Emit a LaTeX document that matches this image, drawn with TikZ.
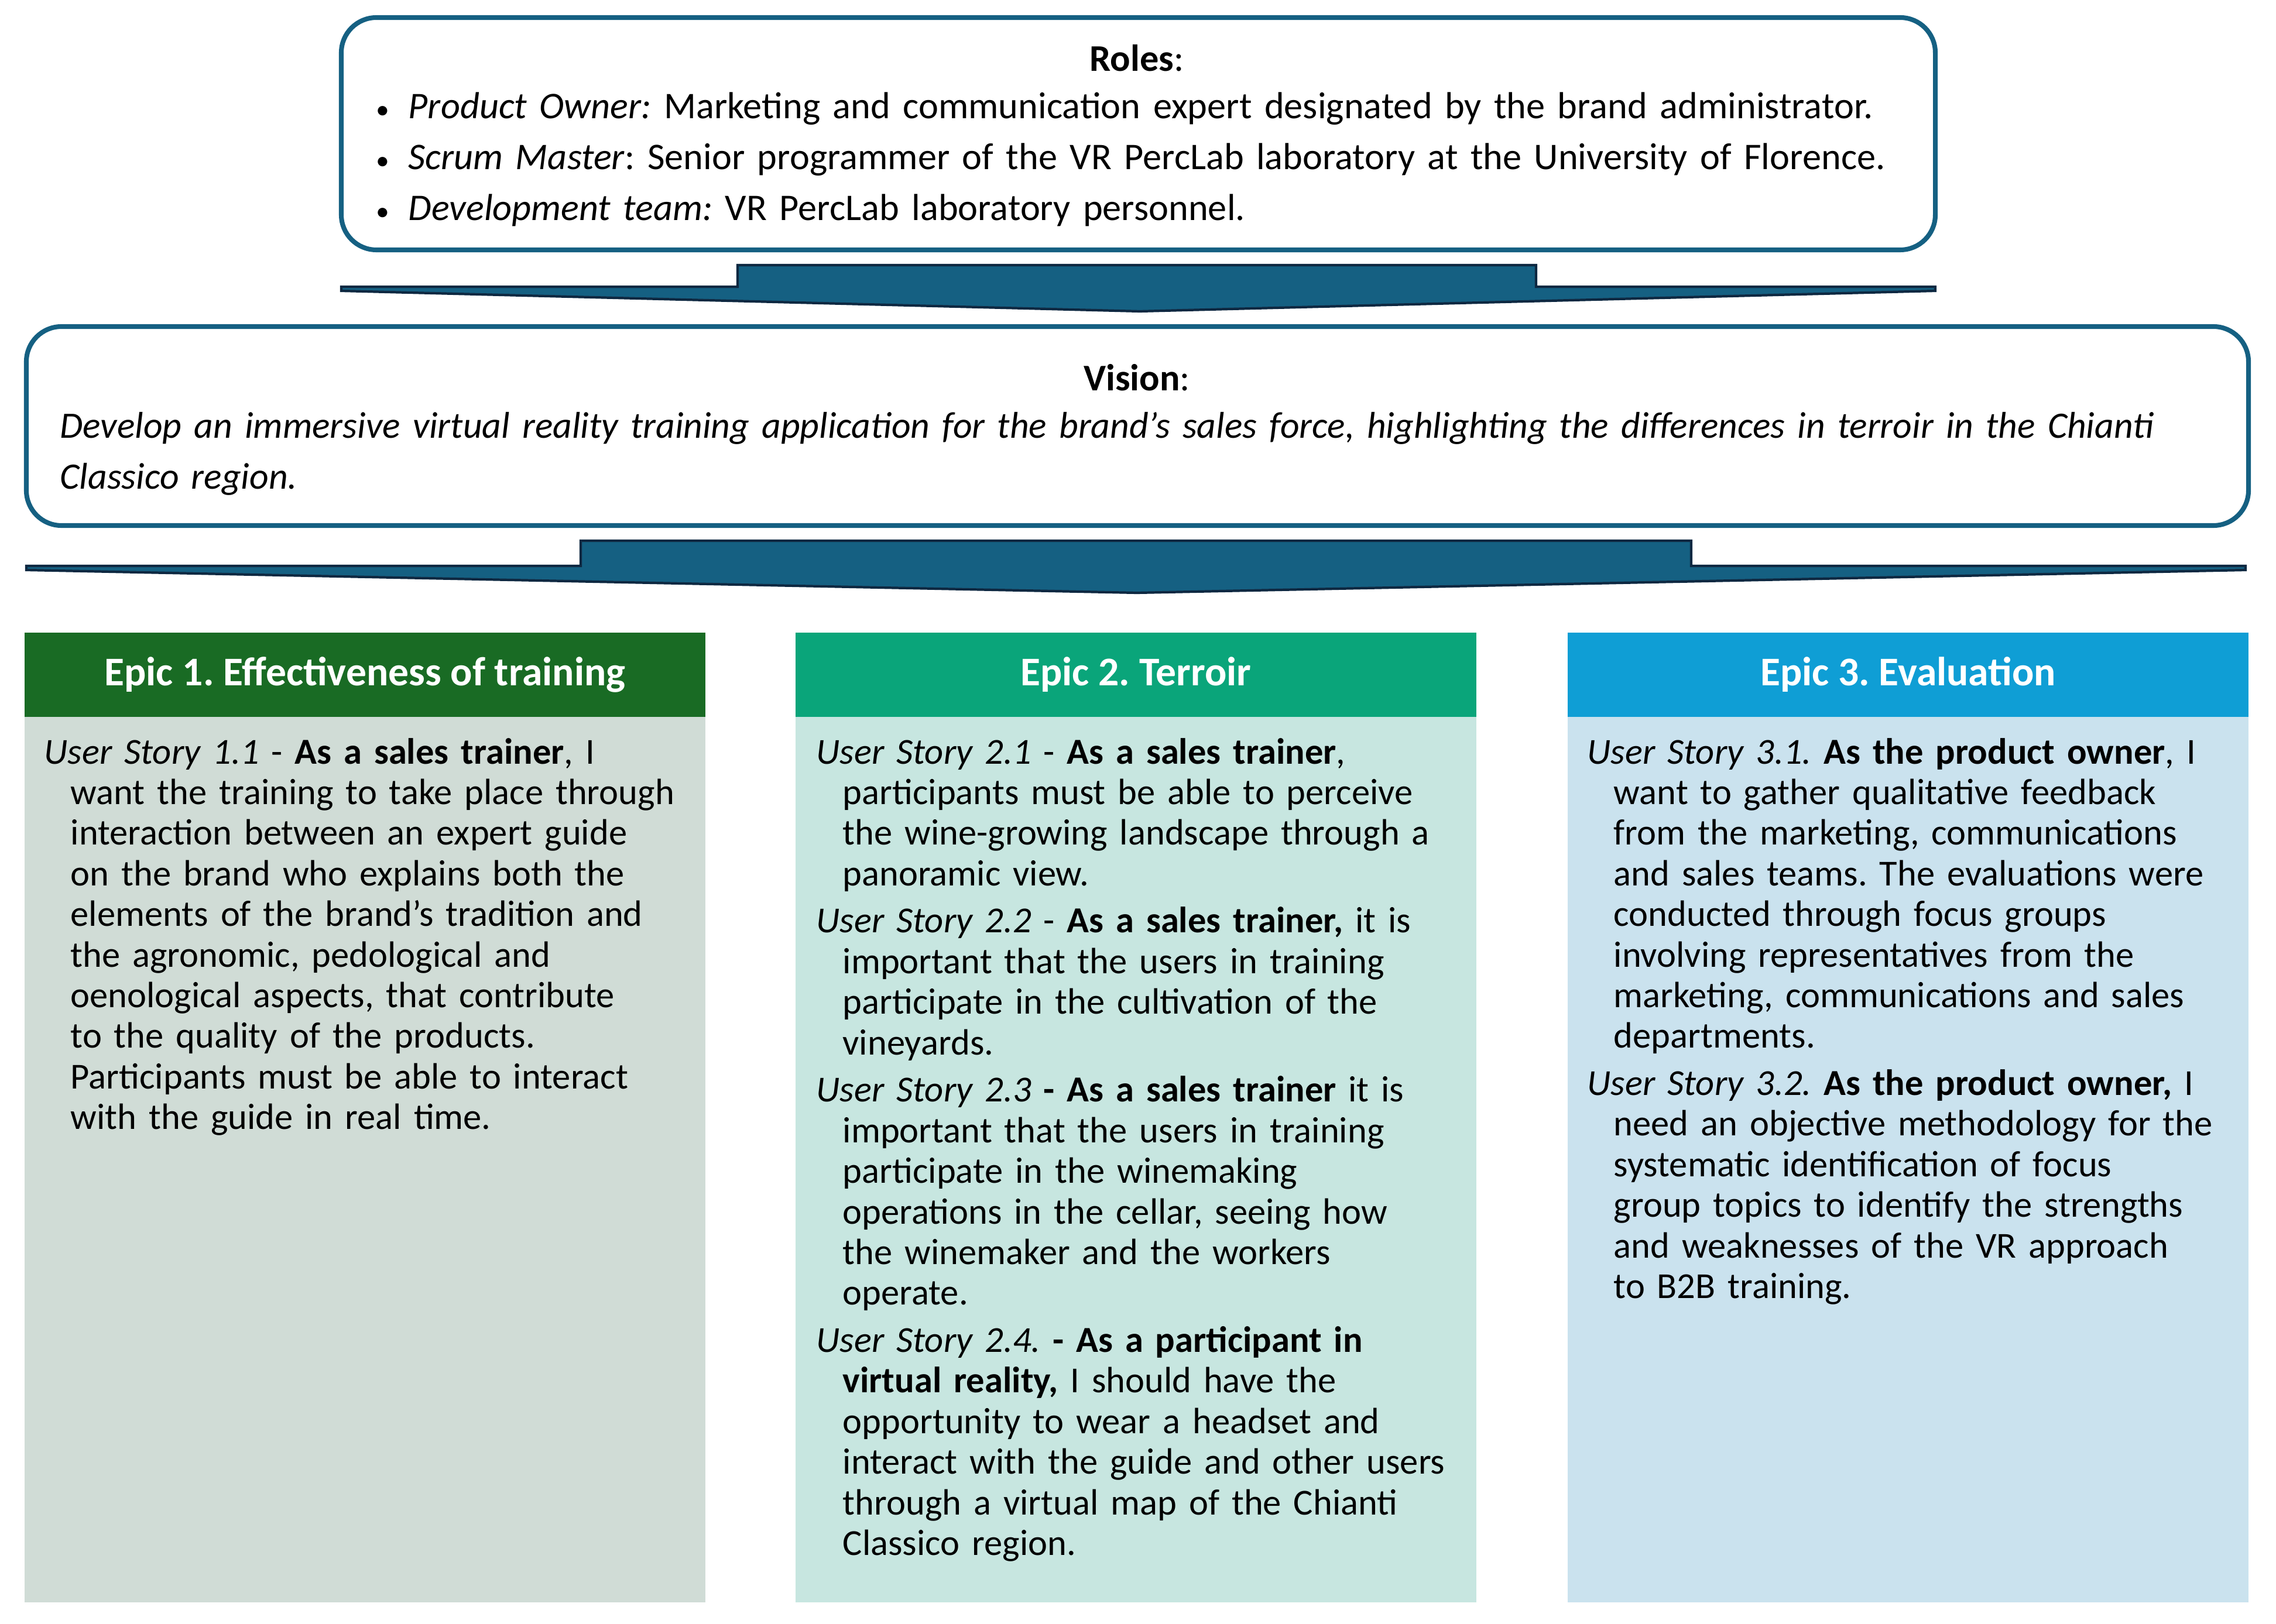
\documentclass[tikz,border=0pt]{standalone}
\usepackage{fontspec}
\setmainfont{Carlito}
\usetikzlibrary{positioning}

\definecolor{roleline}{HTML}{156082}
\definecolor{arrowfill}{HTML}{156082}
\definecolor{arrowedge}{HTML}{0E2841}
\definecolor{epicgreen}{HTML}{196B24}
\definecolor{epicteal}{HTML}{0AA57A}
\definecolor{epicblue}{HTML}{0F9ED5}
\definecolor{bodygreen}{HTML}{D0DCD6}
\definecolor{bodyteal}{HTML}{C7E6E0}
\definecolor{bodyblue}{HTML}{CAE2EE}

\frenchspacing
\newcommand{\story}[1]{\hangindent=0.45cm\hangafter=1\noindent#1\par\vspace{3.2pt}}
\newcommand{\rolebullet}{\makebox[0.55cm][l]{\fontsize{13}{13}\selectfont\textbullet}}

\begin{document}
\begin{tikzpicture}[
  topbox/.style={draw=roleline,line width=2.3pt,rounded corners=0.6cm,fill=white,inner sep=0pt},
  bandarrow/.style={fill=arrowfill,draw=arrowedge,line width=1.2pt,line join=miter},
  epichead/.style={anchor=north west,minimum width=11.63cm,minimum height=1.44cm,inner sep=0pt,outer sep=0pt,text=white,font=\fontsize{19.8}{22}\selectfont\bfseries},
  epicbody/.style={minimum width=11.63cm,minimum height=15.13cm,inner sep=0pt,outer sep=0pt},
  storytext/.style={anchor=base west,text width=11.25cm,inner sep=0pt,font=\fontsize{17.8}{19.75}\selectfont},
  toptext/.style={inner sep=0pt,font=\fontsize{18.3}{24.75}\selectfont}]
  \useasboundingbox (0,0) rectangle (38.88,-27.75);
  \fill[white] (0,0) rectangle (38.88,-27.75);
  % roles
  \node[topbox,minimum width=27.23cm,minimum height=3.97cm] (roles) at (19.445,-2.285) {};
  \node[toptext] (rolestitle) at (19.42,-0.99) {\textbf{Roles}:};
  \node[toptext,anchor=base west,text width=27cm] (roleslist) at (6.42,-2.03) {%
    \rolebullet\textit{Product Owner:} Marketing and communication expert designated by the brand administrator.\newline
    \rolebullet\textit{Scrum Master}: Senior programmer of the VR PercLab laboratory at the University of Florence.\newline
    \rolebullet\textit{Development team:} VR PercLab laboratory personnel.};
  % vision
  \node[topbox,minimum width=37.96cm,minimum height=3.40cm] (vision) at (19.43,-7.28) {};
  \node[toptext] (visiontitle) at (19.42,-6.45) {\textbf{Vision}:};
  \node[toptext,anchor=base west,text width=37.3cm,font=\fontsize{18.1}{24.75}\selectfont] (visiontext) at (1.02,-7.49) {\itshape Develop an immersive virtual reality training application for the brand's sales force, highlighting the differences in terroir in the Chianti\newline Classico region.};
  % flat arrows between the blocks
  \foreach \bl/\br/\wl/\wr/\yt/\yw/\tx/\ty in {12.60/26.24/5.83/33.06/-4.53/-4.90/19.47/-5.32,9.92/28.89/0.45/38.36/-9.24/-9.67/19.42/-10.13}
    \filldraw[bandarrow] (\bl,\yt) -- (\br,\yt) -- (\br,\yw) -- (\wr,\yw) -- (\wr,\yw-0.07) -- (\tx,\ty) -- (\wl,\yw-0.07) -- (\wl,\yw) -- (\bl,\yw) -- cycle;
  % epics
  \foreach \i/\x/\hc/\bc/\ttl in {1/0.42/epicgreen/bodygreen/{Epic 1. Effectiveness of training},2/13.59/epicteal/bodyteal/{Epic 2. Terroir},3/26.78/epicblue/bodyblue/{Epic 3. Evaluation}}{
    \node[epichead,fill=\hc] (epic\i) at (\x,-10.81) {\ttl};
    \node[epicbody,fill=\bc,below=0pt of epic\i] (body\i) {};
  }
  % user stories
  \node[storytext] (stories1) at ([shift={(0.33,-0.80)}]body1.north west) {%
    \story{\textit{User Story 1.1} - \textbf{As a sales trainer}, I\newline want the training to take place through\newline interaction between an expert guide\newline on the brand who explains both the\newline elements of the brand's tradition and\newline the agronomic, pedological and\newline oenological aspects, that contribute\newline to the quality of the products.\newline Participants must be able to interact\newline with the guide in real time.}};
  \node[storytext] (stories2) at ([shift={(0.35,-0.80)}]body2.north west) {%
    \story{\textit{User Story 2.1} - \textbf{As a sales trainer},\newline participants must be able to perceive\newline the wine-growing landscape through a\newline panoramic view.}
    \story{\textit{User Story 2.2} - \textbf{As a sales trainer,} it is\newline important that the users in training\newline participate in the cultivation of the\newline vineyards.}
    \story{\textit{User Story 2.3} \textbf{- As a sales trainer} it is\newline important that the users in training\newline participate in the winemaking\newline operations in the cellar, seeing how\newline the winemaker and the workers\newline operate.}
    \story{\textit{User Story 2.4.} \textbf{- As a participant in\newline virtual reality,} I should have the\newline opportunity to wear a headset and\newline interact with the guide and other users\newline through a virtual map of the Chianti\newline Classico region.}};
  \node[storytext] (stories3) at ([shift={(0.33,-0.80)}]body3.north west) {%
    \story{\textit{User Story 3.1.} \textbf{As the product owner}, I\newline want to gather qualitative feedback\newline from the marketing, communications\newline and sales teams. The evaluations were\newline conducted through focus groups\newline involving representatives from the\newline marketing, communications and sales\newline departments.}
    \story{\textit{User Story 3.2.} \textbf{As the product owner,} I\newline need an objective methodology for the\newline systematic identification of focus\newline group topics to identify the strengths\newline and weaknesses of the VR approach\newline to B2B training.}};
\end{tikzpicture}
\end{document}
